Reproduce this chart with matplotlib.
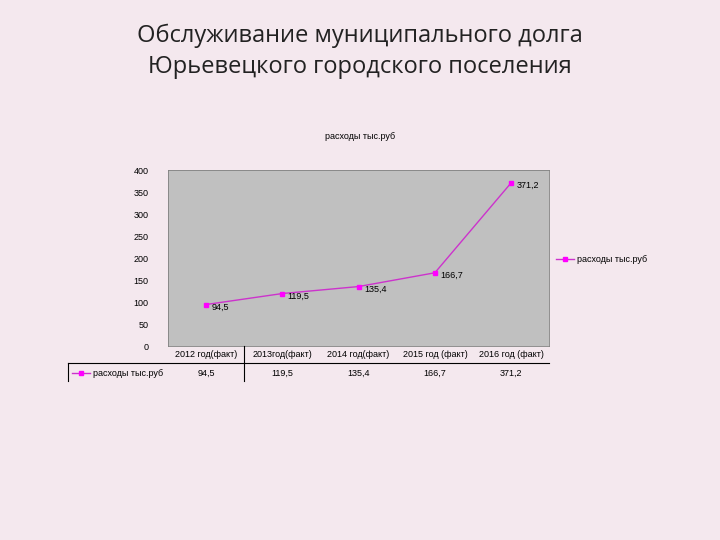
import matplotlib
matplotlib.use("Agg")
import matplotlib.pyplot as plt
from matplotlib.lines import Line2D

categories = ["2012 год(факт)", "2013год(факт)", "2014 год(факт)", "2015 год (факт)", "2016 год (факт)"]
values = [94.5, 119.5, 135.4, 166.7, 371.2]
value_labels = ["94,5", "119,5", "135,4", "166,7", "371,2"]
series = "расходы тыс.руб"

bg = "#f4e8ee"
fig = plt.figure(figsize=(7.2, 5.4), dpi=100, facecolor=bg)
fig.text(0.5, 0.905, "Обслуживание муниципального долга\nЮрьевецкого городского поселения",
         ha="center", va="center", fontsize=17, family="Open Sans", color="#222222", linespacing=1.35)
fig.text(0.5, 0.742, series, ha="center", fontsize=6.5, family="Liberation Sans")

ax = fig.add_axes([0.233, 0.359, 0.530, 0.326])
ax.set_facecolor("#c0c0c0")
x = [i + 0.5 for i in range(len(values))]
ax.plot(x, values, color="#cc33cc", lw=1, marker="s", ms=3, mfc="#ff00ff", mec="#ff00ff")
for xi, v, lab in zip(x, values, value_labels):
    ax.annotate(lab, (xi, v), xytext=(4, -2), textcoords="offset points", fontsize=6.5,
                family="Liberation Sans", va="center")
ax.set_xlim(0, len(values))
ax.set_ylim(0, 400)
ax.set_yticks(range(0, 401, 50))
ax.tick_params(axis="y", length=0, labelsize=6.5, pad=14)
for t in ax.get_yticklabels():
    t.set_family("Liberation Sans")
ax.set_xticks([])
for s in ax.spines.values():
    s.set_color("#808080"); s.set_linewidth(0.6)

tr = ax.get_xaxis_transform()
for xi, c, lab in zip(x, categories, value_labels):
    ax.text(xi, -0.045, c, transform=tr, ha="center", va="center", fontsize=6.5, family="Liberation Sans")
    ax.text(xi, -0.155, lab, transform=tr, ha="center", va="center", fontsize=6.5, family="Liberation Sans")
# table lines
fig.add_artist(Line2D([68/720, 549/720], [1-363/540]*2, color="black", lw=0.8))
fig.add_artist(Line2D([244/720]*2, [1-346/540, 1-381/540], color="black", lw=0.8))
fig.add_artist(Line2D([68/720]*2, [1-363/540, 1-381/540], color="black", lw=0.8))
# table legend key
fig.add_artist(Line2D([72/720, 90/720], [1-373/540]*2, color="#cc33cc", lw=1))
fig.add_artist(Line2D([81/720], [1-373/540], color="#cc33cc", marker="s", ms=3, mfc="#ff00ff", mec="#ff00ff", lw=0))
fig.text(93/720, 1-373/540, series, va="center", fontsize=6.5, family="Liberation Sans")
# right legend
fig.add_artist(Line2D([556/720, 574/720], [1-259/540]*2, color="#cc33cc", lw=1))
fig.add_artist(Line2D([565/720], [1-259/540], color="#cc33cc", marker="s", ms=3, mfc="#ff00ff", mec="#ff00ff", lw=0))
fig.text(577/720, 1-259/540, series, va="center", fontsize=6.5, family="Liberation Sans")

fig.savefig("out.png", dpi=100, facecolor=bg)
